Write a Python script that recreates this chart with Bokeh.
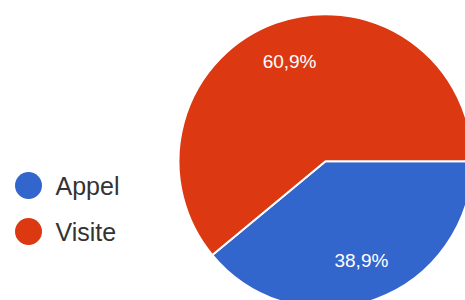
import math
from bokeh.plotting import figure
from bokeh.models import ColumnDataSource, Range1d
from bokeh.core.properties import value
from bokeh.embed import file_html
from bokeh.resources import INLINE

categories = ["Appel", "Visite"]
shares = [38.9, 60.9]
labels = ["38,9%", "60,9%"]
colors = ["#3366CC", "#DC3912"]

W, H = 465, 300
p = figure(width=W, height=H, output_backend="svg", toolbar_location=None,
           x_range=Range1d(0, W), y_range=Range1d(0, H), min_border=0,
           outline_line_color=None, background_fill_color="white")
p.axis.visible = False
p.grid.visible = False

cx, cy, r = 325, H - 160.7, 147
total = sum(shares)
starts, ends, lx, ly = [], [], [], []
a = 0.0
for s in shares:
    span = 2 * math.pi * s / total
    starts.append(a)
    ends.append(a - span)
    mid = a - span / 2
    lx.append(cx + 0.72 * r * math.cos(mid))
    ly.append(cy + 0.72 * r * math.sin(mid))
    a -= span

src = ColumnDataSource(dict(start=starts, end=ends, color=colors, lx=lx, ly=ly,
                            label=labels, cat=categories,
                            gx=[28, 28], gy=[H - 185, H - 231], tx=[55, 55]))
p.wedge(x=cx, y=cy, radius=r, start_angle="start", end_angle="end",
        direction="clock", fill_color="color", line_color="white", line_width=2,
        source=src)
p.text(x="lx", y="ly", text="label", source=src, text_color="white",
       text_font=value("Liberation Sans"), text_font_size="19px",
       text_align="center", text_baseline="middle")
p.scatter(x="gx", y="gy", size=27, marker="circle", fill_color="color",
          line_color=None, source=src)
p.text(x="tx", y="gy", text="cat", source=src, text_color="#333333",
       text_font=value("Liberation Sans"), text_font_size="25px",
       text_align="left", text_baseline="middle")

open("out.html", "w").write(file_html(p, INLINE))
